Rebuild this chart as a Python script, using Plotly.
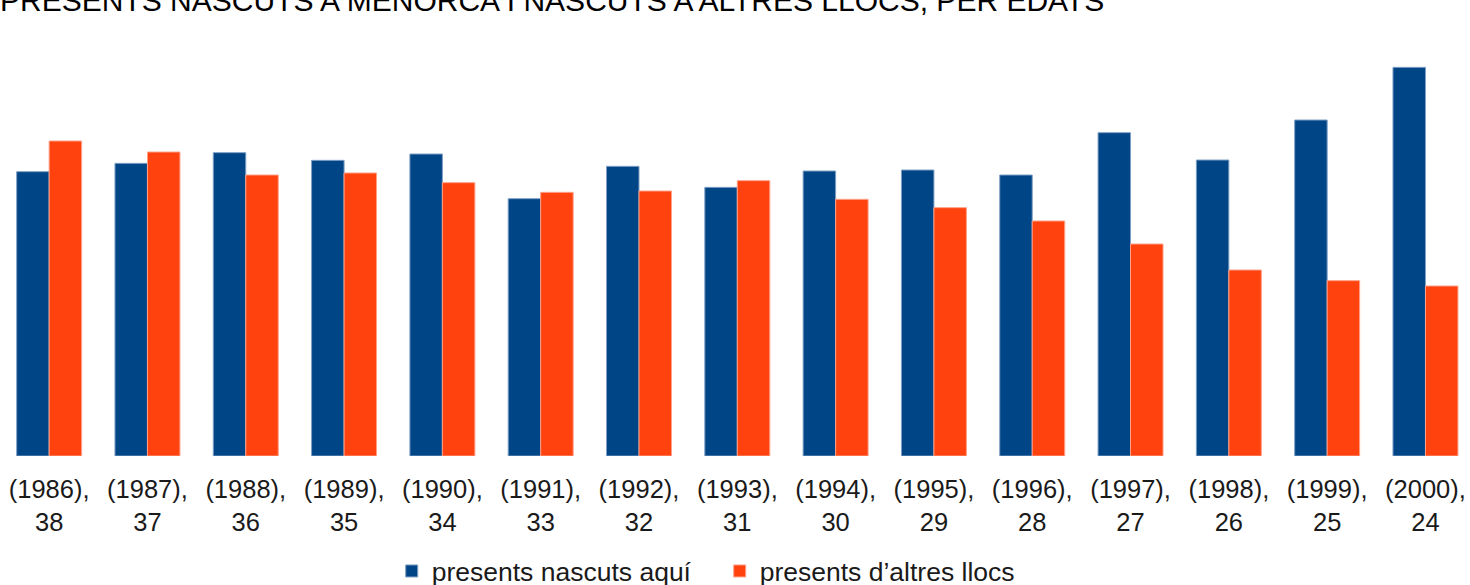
import plotly.graph_objects as go

years = ["1986", "1987", "1988", "1989", "1990", "1991", "1992", "1993",
         "1994", "1995", "1996", "1997", "1998", "1999", "2000"]
ages = ["38", "37", "36", "35", "34", "33", "32", "31",
        "30", "29", "28", "27", "26", "25", "24"]
categories = [f"({y}),<br>{a}" for y, a in zip(years, ages)]

nascuts_aqui = [853, 878, 910, 887, 906, 772, 869, 806, 855, 858, 843, 970, 888, 1008, 1166]
altres_llocs = [945, 912, 843, 849, 820, 791, 795, 826, 770, 745, 705, 636, 558, 526, 510]

title_text = "PRESENTS NASCUTS A MENORCA I NASCUTS A ALTRES LLOCS, PER EDATS"
series_names = ["presents nascuts aquí", "presents d\u2019altres llocs"]

fig = go.Figure()
fig.add_trace(go.Bar(x=categories, y=nascuts_aqui, name=series_names[0],
                     marker=dict(color="#004586", line=dict(color="#7f9fc4", width=1))))
fig.add_trace(go.Bar(x=categories, y=altres_llocs, name=series_names[1],
                     marker=dict(color="#ff420e", line=dict(color="#ffa088", width=1))))

fig.update_layout(
    width=1470, height=585,
    margin=dict(l=0, r=0, t=40, b=129, autoexpand=False),
    paper_bgcolor="white", plot_bgcolor="white",
    barmode="group", bargap=0.339, bargroupgap=0,
    font=dict(family="Liberation Sans, Arial, sans-serif", color="#1a1a1a"),
    showlegend=True,
    legend=dict(orientation="h", x=0.4896, xanchor="center", y=-0.277, yanchor="middle",
                font=dict(size=26.5, color="#1a1a1a"), entrywidth=283, entrywidthmode="pixels"),
    annotations=[dict(text=title_text, xref="paper", yref="paper", x=0, xanchor="left",
                      xshift=-2, y=1.0, yanchor="bottom", yshift=21, showarrow=False,
                      font=dict(size=30, color="#000000"))],
)
fig.update_xaxes(showline=False, showgrid=False, ticks="", tickfont=dict(size=25.5, color="#1a1a1a"),
                 tickangle=0, automargin=False, ticklabeloverflow="allow",
                 ticklabelstandoff=15, range=[-0.5, 14.453])
fig.update_yaxes(visible=False, range=[0, 1248], showgrid=False, zeroline=False, automargin=False)

fig.write_html("out.html", config={"displayModeBar": False},
               post_script="document.body.style.margin='0';")
